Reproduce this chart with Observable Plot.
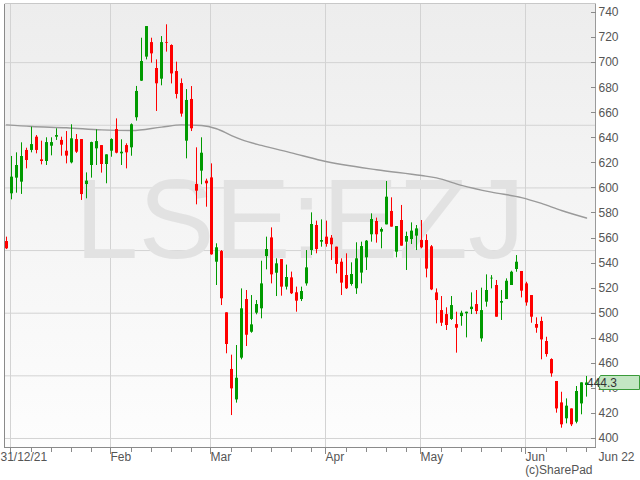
<!DOCTYPE html>
<html><head><meta charset="utf-8">
<script src="https://cdn.jsdelivr.net/npm/d3@7"></script>
<script src="https://cdn.jsdelivr.net/npm/@observablehq/plot@0.6"></script>
<style>
html,body{margin:0;padding:0;background:#fff;}
#chart{width:640px;height:480px;}
</style></head><body><div id="chart"></div>
<script>
// Daily candles, LSE:EZJ, 31/12/21 .. Jun 22 (trading-day index 0..116)
const opens = [557.2,595.3,607.8,604.6,629.9,629.9,640.5,622.4,621.1,633.3,640.5,637.9,629.3,620.0,638.6,638.6,602.7,617.9,631.2,633.8,
618.7,629.3,646.6,627.2,633.8,632.0,656.0,685.2,704.4,716.0,695.3,686.8,716.1,713.7,692.9,683.3,637.3,670.6,602.7,613.4,
605.4,608.0,540.7,549.2,500.3,455.1,430.8,464.1,510.9,484.8,500.0,503.5,545.2,560.1,531.9,542.8,520.8,528.2,516.3,510.9,
523.4,550.0,570.0,556.7,560.7,559.9,552.7,540.7,530.1,522.9,519.5,532.0,544.2,562.6,573.2,564.7,570.5,581.2,548.7,574.0,
556.7,558.8,561.5,558.1,558.0,553.0,516.2,502.1,498.9,495.0,490.9,497.3,499.5,502.9,506.9,479.5,508.8,527.4,522.1,508.0,
510.9,522.1,534.9,533.3,523.4,514.1,491.0,493.4,477.4,463.0,445.5,428.4,415.7,423.6,413.0,427.6,442.3];
const highs = [560.7,625.1,628.0,636.0,631.7,648.5,641.8,637.3,640.0,640.0,647.2,640.5,645.0,650.4,642.6,638.6,612.0,636.5,646.3,633.8,
626.4,639.2,655.1,638.4,635.2,651.1,681.0,719.5,728.8,719.5,702.2,720.8,730.2,714.2,700.4,687.0,678.5,680.9,632.0,640.0,
607.0,619.2,555.4,550.0,500.3,466.5,474.2,519.4,518.1,514.1,510.1,541.5,560.7,568.1,543.4,542.8,538.4,532.8,520.8,520.8,
550.0,580.1,573.5,574.5,573.5,562.0,552.7,543.4,547.4,540.2,556.2,556.7,558.0,579.3,575.9,568.1,605.1,592.1,569.2,586.0,
564.7,572.1,570.0,574.0,562.6,554.0,519.4,513.3,504.3,513.3,500.8,501.6,500.8,516.2,518.1,520.0,530.6,530.0,526.1,518.1,
527.4,533.5,546.0,533.3,524.7,514.1,496.3,496.8,480.8,463.6,445.5,436.9,431.6,423.6,441.5,444.4,449.5];
const lows = [550.8,590.5,595.8,594.8,615.2,628.0,627.2,618.4,617.9,625.6,637.9,625.3,619.2,619.2,627.5,590.0,591.3,607.8,617.9,611.8,
603.3,624.5,627.2,617.9,615.2,625.3,653.3,685.0,702.2,699.6,661.0,681.5,708.4,683.0,671.0,656.5,623.2,645.0,586.5,602.5,
584.6,546.3,522.1,506.1,467.6,418.3,428.2,462.8,473.4,484.0,498.7,495.5,534.6,523.4,513.3,513.6,518.5,514.9,500.8,509.3,
521.6,546.1,547.4,552.7,552.7,542.1,531.4,514.1,518.9,521.6,515.0,523.4,534.1,556.7,555.9,551.4,570.5,568.7,544.2,553.5,
534.1,554.8,550.0,551.4,528.2,518.0,491.5,489.4,486.2,494.2,468.1,489.6,480.3,498.9,498.9,476.9,504.8,519.4,496.8,494.2,
510.9,522.1,532.7,512.2,505.6,492.0,484.0,462.8,464.9,448.9,420.2,408.2,411.7,409.5,411.7,418.9,433.0];
const closes = [551.4,608.6,617.9,625.1,621.9,634.6,629.9,621.1,636.2,636.2,641.8,634.1,625.4,639.2,628.5,594.7,605.4,636.2,637.0,618.7,
626.4,638.6,627.7,628.5,628.0,650.4,677.0,700.9,728.8,707.0,683.1,716.0,715.5,691.0,674.6,658.9,669.8,647.2,597.4,627.7,
603.3,546.6,552.2,511.5,475.0,439.6,448.1,503.5,482.4,490.7,506.9,523.4,550.8,530.6,539.4,520.8,528.5,515.5,509.6,517.3,
536.2,570.8,550.8,558.0,554.9,554.6,538.9,524.0,519.5,530.9,543.4,553.2,557.5,574.8,562.6,566.8,592.6,568.7,569.2,553.5,
561.2,565.5,567.3,552.2,535.2,518.6,510.1,492.0,490.2,506.1,488.0,500.0,500.8,504.8,501.3,502.1,518.1,527.9,496.8,509.3,
525.5,532.7,540.7,517.6,508.2,496.8,488.0,478.7,467.0,451.6,423.6,410.9,425.8,410.9,437.5,444.4,444.3];

// moving average (grey line), read at selected trading-day indices
const maIdx  = [0,5,12,19,25,31,35,39,42,45,47,51,57,63,74,83,86,91,97,103,107,111,116];
const maVals = [650.3,649.0,648.0,646.3,645.8,648.5,650.3,649.8,647.2,641.8,638.6,633.9,628.0,621.9,614.5,609.9,608.0,602.0,596.6,592.3,587.6,582.0,576.0];

// axes
const yTicks = [400,420,440,460,480,500,520,540,560,580,600,620,640,660,680,700,720,740];
const gridVals = [400,450,500,550,600,650,700];
const monthIdx = [1,21,41,64,83,104];
const monthNames = ["Feb","Mar","Apr","May","Jun"];
const monthLabelIdx = [21,41,64,83,104];
const minorTicks = [5,9,13,17,25,29,33,37,45,49,53,57,61,68,72,76,80,87,91,95,99,103,108,112,116];
const firstLabel = "31/12/21";
const lastLabel = "Jun 22";
const watermark = "LSE:EZJ";
const credit = "(c)SharePad";
const lastPrice = 444.3;
const xDomain = [-0.4, 117.8];
const yDomain = [392.8, 747.2];

const candles = opens.map((o, i) => ({i, open: o, high: highs[i], low: lows[i], close: closes[i]}));
const ma = maIdx.map((i, k) => ({i, v: maVals[k]}));
const colorOf = d => d.close >= d.open ? "#009a00" : "#ff0000";
const FONT = "'Liberation Sans', Arial, sans-serif";

function background(index, scales, values, dims) {
  const {width, height, marginLeft, marginRight, marginTop, marginBottom} = dims;
  const g = d3.create("svg:g");
  const gr = g.append("defs").append("linearGradient").attr("id", "bgGrad")
    .attr("x1", 0).attr("y1", 0).attr("x2", 0).attr("y2", 1);
  gr.append("stop").attr("offset", "0%").attr("stop-color", "#ededed");
  gr.append("stop").attr("offset", "100%").attr("stop-color", "#fdfdfd");
  g.append("rect").attr("x", marginLeft).attr("y", marginTop)
    .attr("width", width - marginLeft - marginRight).attr("height", height - marginTop - marginBottom)
    .attr("fill", "url(#bgGrad)");
  return g.node();
}

function axes(index, scales, values, dims) {
  const {width, height, marginLeft, marginRight, marginTop, marginBottom} = dims;
  const L = marginLeft + 0.5, R = width - marginRight + 0.5, T = marginTop + 0.5, B = height - marginBottom + 0.5;
  const g = d3.create("svg:g").attr("shape-rendering", "crispEdges").attr("stroke-width", 1);
  const line = (x1, y1, x2, y2, c) => g.append("line").attr("x1", x1).attr("y1", y1).attr("x2", x2).attr("y2", y2).attr("stroke", c);
  line(L, T, R, T, "#c8c8c8");
  line(R, T, R, B, "#9a9a9a");
  line(L, T, L, B, "#8a8a8a");
  line(L, B, R, B, "#8a8a8a");
  for (const v of yTicks) { const y = Math.round(scales.y(v)) + 0.5; line(R - 5, y, R, y, "#8a8a8a"); }
  for (const i of minorTicks) { const x = Math.round(scales.x(i)) + 0.5; line(x, B, x, B + 4, "#8a8a8a"); }
  for (const i of monthIdx) { const x = Math.round(scales.x(i - 0.2)) + 0.5; line(x, B, x, B + 6, "#8a8a8a"); }
  return g.node();
}

function priceTag(index, scales, values, dims) {
  const R = Math.round(scales.x(xDomain[1])) + 1;
  const y = Math.round(scales.y(lastPrice)) + 0.5;
  const g = d3.create("svg:g");
  g.append("path")
    .attr("d", `M${R + 0.5},${y} L${R + 4.5},${y - 7} L${R + 43.5},${y - 7} L${R + 43.5},${y + 7} L${R + 4.5},${y + 7} Z`)
    .attr("fill", "#c3e6c3").attr("stroke", "#3a9a3a");
  g.append("text").attr("x", R + 6).attr("y", y).attr("dy", "0.36em")
    .attr("font-size", 12).attr("font-family", FONT).attr("fill", "#333").text(lastPrice.toFixed(1));
  return g.node();
}

const chart = Plot.plot({
  width: 640, height: 480,
  marginLeft: 4, marginRight: 45, marginTop: 3, marginBottom: 33,
  x: {type: "linear", domain: xDomain, axis: null},
  y: {type: "linear", domain: yDomain, axis: null},
  style: {background: "transparent", fontFamily: FONT},
  marks: [
    background,
    Plot.ruleY(gridVals, {y: d => d, stroke: "#d3d3d3", strokeWidth: 1}),
    Plot.ruleX(monthIdx, {x: d => d - 0.2, stroke: "#d3d3d3", strokeWidth: 1}),
    Plot.text([watermark], {frameAnchor: "middle", text: d => d, fontSize: 114, fill: "#e2e2e2", dy: -4, dx: 0}),
    Plot.line(ma, {x: "i", y: "v", stroke: "#9a9a9a", strokeWidth: 1.4, curve: "monotone-x"}),
    Plot.ruleX(candles, {x: "i", y1: "low", y2: "high", stroke: colorOf, strokeWidth: 1}),
    Plot.ruleX(candles, {x: "i", y1: "open", y2: "close", stroke: colorOf, strokeWidth: 3}),
    axes,
    Plot.text(yTicks, {y: d => d, text: d => String(d), frameAnchor: "right", textAnchor: "start", dx: 3, fontSize: 12, fill: "#555"}),
    Plot.text(monthNames, {x: monthLabelIdx, text: d => d, frameAnchor: "bottom", textAnchor: "start", dy: 13, dx: -1, fontSize: 12, fill: "#555"}),
    Plot.text([firstLabel], {text: d => d, frameAnchor: "bottom-left", textAnchor: "start", dy: 13, dx: -4, fontSize: 12, fill: "#555"}),
    Plot.text([lastLabel], {text: d => d, frameAnchor: "bottom-right", textAnchor: "start", dy: 13, dx: 3, fontSize: 12, fill: "#555"}),
    Plot.text([credit], {text: d => d, frameAnchor: "bottom-right", textAnchor: "end", dy: 26, dx: -3, fontSize: 12, fill: "#555"}),
    priceTag
  ]
});
document.getElementById("chart").appendChild(chart);
</script>
</body></html>
